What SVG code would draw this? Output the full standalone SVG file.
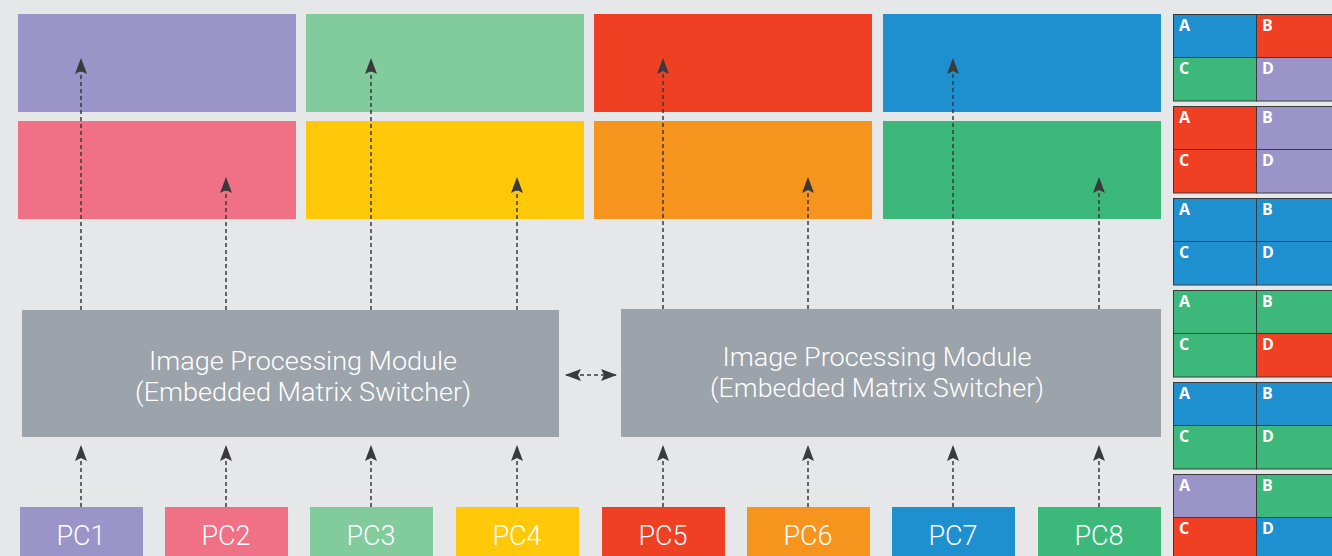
<svg xmlns="http://www.w3.org/2000/svg" width="1332" height="556" viewBox="0 0 1332 556">
<defs>
<style>
.bg{fill:#E6E7E9}
.mod{fill:#9CA3AA}
.mt{font-family:Roboto,"Liberation Sans",sans-serif;font-weight:300;font-size:26px;fill:#FFFFFF;text-anchor:middle}
.pc{font-family:Roboto,"Liberation Sans",sans-serif;font-weight:300;font-size:27px;fill:#FFFFFF;text-anchor:middle}
.lt{font-family:"Open Sans","Liberation Sans",sans-serif;font-weight:bold;font-size:16px;fill:#FFFFFF}
.ln{fill:none;stroke:#3A3A3A;stroke-width:1.5;stroke-dasharray:4 3}
.cell{stroke:#3A3A3A;stroke-width:1}
.pu{fill:#9B94C8}.lg{fill:#81CB9C}.re{fill:#F04023}.bl{fill:#1E90CF}
.pk{fill:#F07086}.ye{fill:#FFC90A}.or{fill:#F7941E}.gr{fill:#3CB97A}
</style>
<marker id="ah" viewBox="0 0 16 12" markerWidth="16" markerHeight="12" refX="15" refY="6" orient="auto-start-reverse" markerUnits="userSpaceOnUse">
<path d="M0,0 L16,6 L0,12 L3,6 z" fill="#3A3A3A"/>
</marker>
</defs>
<rect class="bg" x="0" y="0" width="1332" height="556"/>

<g id="displays">
<rect class="pu" x="18" y="14" width="278" height="98"/>
<rect class="lg" x="306" y="14" width="278" height="98"/>
<rect class="re" x="594" y="14" width="278" height="98"/>
<rect class="bl" x="883" y="14" width="278" height="98"/>
<rect class="pk" x="18" y="121" width="278" height="98"/>
<rect class="ye" x="306" y="121" width="278" height="98"/>
<rect class="or" x="594" y="121" width="278" height="98"/>
<rect class="gr" x="883" y="121" width="278" height="98"/>
</g>

<g id="module1">
<rect class="mod" x="22" y="310" width="537" height="127"/>
<text class="mt" x="303" y="370" textLength="308" lengthAdjust="spacingAndGlyphs">Image Processing Module</text>
<text class="mt" x="303" y="401" textLength="336" lengthAdjust="spacingAndGlyphs">(Embedded Matrix Switcher)</text>
</g>
<g id="module2">
<rect class="mod" x="621" y="309" width="540" height="128"/>
<text class="mt" x="877" y="366" textLength="309" lengthAdjust="spacingAndGlyphs">Image Processing Module</text>
<text class="mt" x="877" y="397" textLength="334" lengthAdjust="spacingAndGlyphs">(Embedded Matrix Switcher)</text>
</g>

<g id="pc1"><rect class="pu" x="20" y="507" width="123" height="49"/><text class="pc" x="81" y="545">PC1</text></g>
<g id="pc2"><rect class="pk" x="165" y="507" width="123" height="49"/><text class="pc" x="226" y="545">PC2</text></g>
<g id="pc3"><rect class="lg" x="310" y="507" width="123" height="49"/><text class="pc" x="371" y="545">PC3</text></g>
<g id="pc4"><rect class="ye" x="456" y="507" width="123" height="49"/><text class="pc" x="517" y="545">PC4</text></g>
<g id="pc5"><rect class="re" x="602" y="507" width="123" height="49"/><text class="pc" x="663" y="545">PC5</text></g>
<g id="pc6"><rect class="or" x="747" y="507" width="123" height="49"/><text class="pc" x="808" y="545">PC6</text></g>
<g id="pc7"><rect class="bl" x="892" y="507" width="123" height="49"/><text class="pc" x="953" y="545">PC7</text></g>
<g id="pc8"><rect class="gr" x="1038" y="507" width="123" height="49"/><text class="pc" x="1099" y="545">PC8</text></g>

<g id="connectors">
<line class="ln" x1="81" y1="507" x2="81" y2="446" marker-end="url(#ah)"/>
<line class="ln" x1="226" y1="507" x2="226" y2="446" marker-end="url(#ah)"/>
<line class="ln" x1="371" y1="507" x2="371" y2="446" marker-end="url(#ah)"/>
<line class="ln" x1="517" y1="507" x2="517" y2="446" marker-end="url(#ah)"/>
<line class="ln" x1="663" y1="507" x2="663" y2="446" marker-end="url(#ah)"/>
<line class="ln" x1="808" y1="507" x2="808" y2="446" marker-end="url(#ah)"/>
<line class="ln" x1="953" y1="507" x2="953" y2="446" marker-end="url(#ah)"/>
<line class="ln" x1="1099" y1="507" x2="1099" y2="446" marker-end="url(#ah)"/>
<line class="ln" x1="81" y1="310" x2="81" y2="59" marker-end="url(#ah)"/>
<line class="ln" x1="226" y1="310" x2="226" y2="178" marker-end="url(#ah)"/>
<line class="ln" x1="371" y1="310" x2="371" y2="59" marker-end="url(#ah)"/>
<line class="ln" x1="517" y1="310" x2="517" y2="178" marker-end="url(#ah)"/>
<line class="ln" x1="663" y1="309" x2="663" y2="59" marker-end="url(#ah)"/>
<line class="ln" x1="808" y1="309" x2="808" y2="178" marker-end="url(#ah)"/>
<line class="ln" x1="953" y1="309" x2="953" y2="59" marker-end="url(#ah)"/>
<line class="ln" x1="1099" y1="309" x2="1099" y2="178" marker-end="url(#ah)"/>
<line class="ln" x1="566" y1="375" x2="616" y2="375" marker-start="url(#ah)" marker-end="url(#ah)"/>
</g>

<g id="layout1">
<rect class="cell bl" x="1173.5" y="14.5" width="83" height="43"/><rect class="cell re" x="1256.5" y="14.5" width="80" height="43"/>
<rect class="cell gr" x="1173.5" y="57.5" width="83" height="43.5"/><rect class="cell pu" x="1256.5" y="57.5" width="80" height="43.5"/>
<text class="lt" x="1179" y="31">A</text><text class="lt" x="1262" y="31">B</text><text class="lt" x="1179" y="74">C</text><text class="lt" x="1262" y="74">D</text>
</g>
<g id="layout2">
<rect class="cell re" x="1173.5" y="106.5" width="83" height="43"/><rect class="cell pu" x="1256.5" y="106.5" width="80" height="43"/>
<rect class="cell re" x="1173.5" y="149.5" width="83" height="43.5"/><rect class="cell pu" x="1256.5" y="149.5" width="80" height="43.5"/>
<text class="lt" x="1179" y="123">A</text><text class="lt" x="1262" y="123">B</text><text class="lt" x="1179" y="166">C</text><text class="lt" x="1262" y="166">D</text>
</g>
<g id="layout3">
<rect class="cell bl" x="1173.5" y="198.5" width="83" height="43"/><rect class="cell bl" x="1256.5" y="198.5" width="80" height="43"/>
<rect class="cell bl" x="1173.5" y="241.5" width="83" height="43.5"/><rect class="cell bl" x="1256.5" y="241.5" width="80" height="43.5"/>
<text class="lt" x="1179" y="215">A</text><text class="lt" x="1262" y="215">B</text><text class="lt" x="1179" y="258">C</text><text class="lt" x="1262" y="258">D</text>
</g>
<g id="layout4">
<rect class="cell gr" x="1173.5" y="290.5" width="83" height="43"/><rect class="cell gr" x="1256.5" y="290.5" width="80" height="43"/>
<rect class="cell gr" x="1173.5" y="333.5" width="83" height="43.5"/><rect class="cell re" x="1256.5" y="333.5" width="80" height="43.5"/>
<text class="lt" x="1179" y="307">A</text><text class="lt" x="1262" y="307">B</text><text class="lt" x="1179" y="350">C</text><text class="lt" x="1262" y="350">D</text>
</g>
<g id="layout5">
<rect class="cell bl" x="1173.5" y="382.5" width="83" height="43"/><rect class="cell bl" x="1256.5" y="382.5" width="80" height="43"/>
<rect class="cell gr" x="1173.5" y="425.5" width="83" height="43.5"/><rect class="cell gr" x="1256.5" y="425.5" width="80" height="43.5"/>
<text class="lt" x="1179" y="399">A</text><text class="lt" x="1262" y="399">B</text><text class="lt" x="1179" y="442">C</text><text class="lt" x="1262" y="442">D</text>
</g>
<g id="layout6">
<rect class="cell pu" x="1173.5" y="474.5" width="83" height="43"/><rect class="cell gr" x="1256.5" y="474.5" width="80" height="43"/>
<rect class="cell re" x="1173.5" y="517.5" width="83" height="43.5"/><rect class="cell bl" x="1256.5" y="517.5" width="80" height="43.5"/>
<text class="lt" x="1179" y="491">A</text><text class="lt" x="1262" y="491">B</text><text class="lt" x="1179" y="534">C</text><text class="lt" x="1262" y="534">D</text>
</g>
</svg>
